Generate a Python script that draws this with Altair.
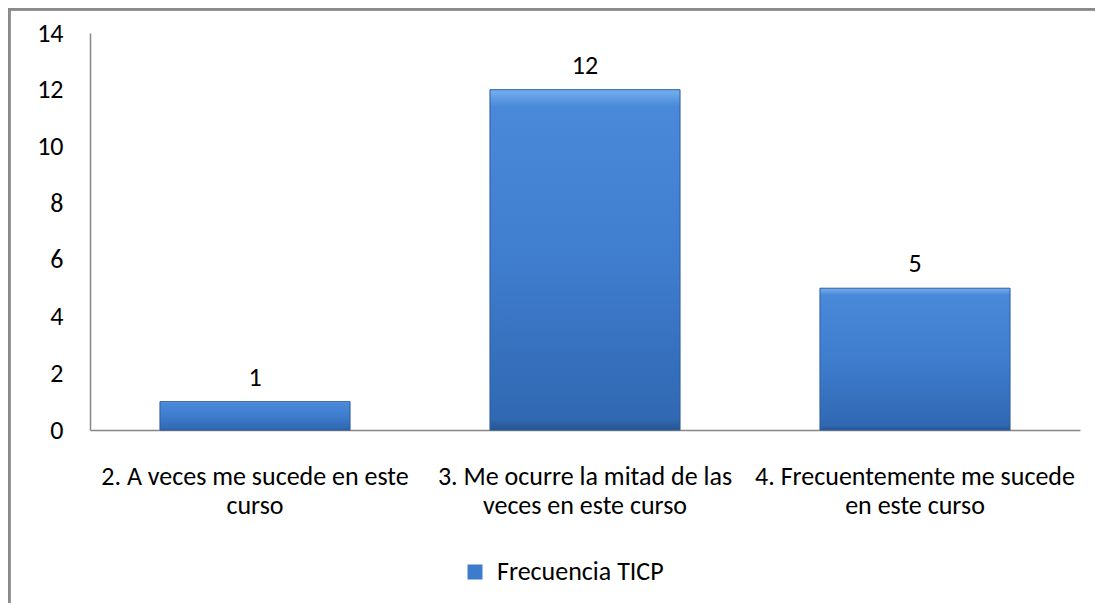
import altair as alt
import pandas as pd

categories = [
    "2. A veces me sucede en este|curso",
    "3. Me ocurre la mitad de las|veces en este curso",
    "4. Frecuentemente me sucede|en este curso",
]
values = [1, 12, 5]
series_name = "Frecuencia TICP"
y_ticks = [0, 2, 4, 6, 8, 10, 12, 14]

df = pd.DataFrame({"cat": categories, "val": values, "serie": [series_name] * len(values)})

FONT = "Carlito, Lato, sans-serif"
FS = 26
AXIS_GRAY = "#868686"

grad = alt.Gradient(
    gradient="linear",
    stops=[
        alt.GradientStop(color="#74afef", offset=0),
        alt.GradientStop(color="#4a89d9", offset=0.05),
        alt.GradientStop(color="#3f7dce", offset=0.5),
        alt.GradientStop(color="#3068b2", offset=0.97),
        alt.GradientStop(color="#26548f", offset=1),
    ],
    x1=0, x2=0, y1=0, y2=1,
)

x_enc = alt.X(
    "cat:N", sort=categories,
    scale=alt.Scale(paddingInner=0.424, paddingOuter=0.212),
    axis=alt.Axis(
        title=None, labelAngle=0, labelExpr="split(datum.label, '|')",
        ticks=False, domainColor=AXIS_GRAY, domainWidth=1.5,
        labelFontSize=FS, labelFont=FONT, labelColor="black",
        labelPadding=33, labelLineHeight=29, labelLimit=400,
    ),
)
y_enc = alt.Y(
    "val:Q", scale=alt.Scale(domain=[0, 14], nice=False),
    axis=alt.Axis(
        title=None, values=y_ticks, grid=False, ticks=False,
        domainColor=AXIS_GRAY, domainWidth=1.5,
        labelFontSize=FS, labelFont=FONT, labelColor="black", labelPadding=27,
    ),
)

base = alt.Chart(df)

bars = base.mark_bar(fill=grad, stroke="#2c5c9c", strokeWidth=1).encode(x=x_enc, y=y_enc)

texts = base.mark_text(dy=-24, fontSize=FS, font=FONT, color="black", baseline="middle").encode(
    x=alt.X("cat:N", sort=categories), y="val:Q", text="val:Q"
)

legend_layer = base.mark_square(opacity=0, size=1).encode(
    x=alt.X("cat:N", sort=categories), y="val:Q",
    color=alt.Color(
        "serie:N", scale=alt.Scale(range=["#3d7bcc"]),
        legend=alt.Legend(
            title=None, orient="none", legendX=372, legendY=526,
            symbolType="square", symbolSize=225, symbolOpacity=1,
            symbolStrokeWidth=0, labelFontSize=FS, labelFont=FONT,
            labelColor="black", labelOffset=9, padding=0, labelLimit=400,
        ),
    ),
)

border_top = base.mark_rule(color="#8a8a8a", strokeWidth=3).encode(
    x=alt.value(-82), x2=alt.value(1005), y=alt.value(-24)
)
border_left = base.mark_rule(color="#8a8a8a", strokeWidth=3).encode(
    x=alt.value(-81), y=alt.value(-25), y2=alt.value(570)
)

chart = (
    alt.layer(bars, texts, legend_layer, border_top, border_left)
    .properties(
        width=990, height=397,
        autosize=alt.AutoSizeParams(type="none"),
        padding={"left": 82, "top": 25, "right": 15, "bottom": 173},
        background="white",
    )
    .configure_view(stroke=None)
)

chart.save("out.html", embed_options={"renderer": "svg", "actions": False})
